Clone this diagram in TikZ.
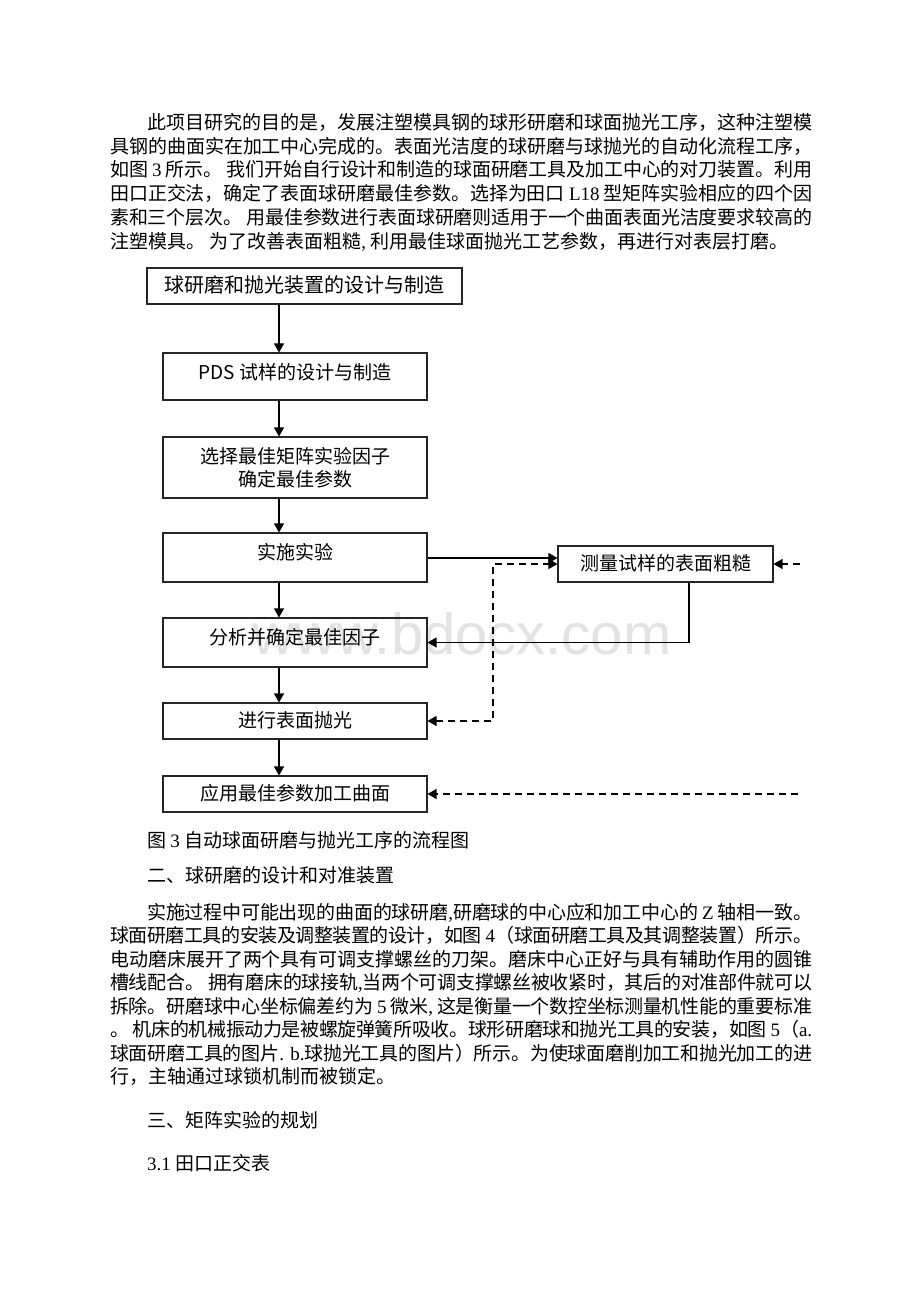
\documentclass[tikz,border=0pt]{standalone}
\usepackage{fontspec}
\setmainfont{Noto Sans CJK SC}
\newfontfamily\lat{Liberation Serif}
\newfontfamily\wmfont{Liberation Sans}
\usetikzlibrary{arrows.meta}
\XeTeXlinebreaklocale "zh"
\XeTeXlinebreakskip=0pt plus 4pt minus 1.2pt
\newcommand\jline[2]{\parbox[t]{#1}{\tolerance=10000\emergencystretch=0pt\parfillskip=0pt\parindent=0pt\noindent #2}}
\tikzset{
  box/.style={draw=black!85, line width=1.1pt, rectangle, inner sep=0pt, align=center,
    font=\fontsize{19pt}{23pt}\selectfont},
  tl/.style={text height=16pt, text depth=3pt},
  tu/.style={text height=16pt, text depth=13pt},
  arr/.style={line width=1.3pt, -{Triangle[length=9pt,width=10pt]}},
  darr/.style={arr, dash pattern=on 7pt off 5pt},
  dboth/.style={line width=1.3pt, dash pattern=on 7pt off 5pt, {Triangle[length=9pt,width=10pt]}-{Triangle[length=9pt,width=10pt]}},
  txt/.style={anchor=base west, inner sep=0pt, font=\fontsize{19pt}{23.6pt}\selectfont},
}
\begin{document}
\begin{tikzpicture}[x=1pt,y=-1pt]
\useasboundingbox[fill=white] (0,0) rectangle (920,1302);

% watermark
\node[inner sep=0pt, text=black!11, font=\wmfont\fontsize{58pt}{58pt}\selectfont] (wm) at (462,634) {www.bdocx.com};

% paragraph 1
\node[txt] (p1a) at (147,129.5) {\jline{665pt}{此项目研究的目的是，发展注塑模具钢的球形研磨和球面抛光工序，这种注塑模}};
\node[txt] (p1b) at (110,153.2) {\jline{702pt}{具钢的曲面实在加工中心完成的。表面光洁度的球研磨与球抛光的自动化流程工序，}};
\node[txt] (p1c) at (110,176.9) {\jline{702pt}{如图 {\lat 3} 所示。 我们开始自行设计和制造的球面研磨工具及加工中心的对刀装置。利用}};
\node[txt] (p1d) at (110,200.6) {\jline{702pt}{田口正交法，确定了表面球研磨最佳参数。选择为田口 {\lat L18} 型矩阵实验相应的四个因}};
\node[txt] (p1e) at (110,224.3) {\jline{702pt}{素和三个层次。 用最佳参数进行表面球研磨则适用于一个曲面表面光洁度要求较高的}};
\node[txt] (p1f) at (110,248) {注塑模具。 为了改善表面粗糙{\lat ,} 利用最佳球面抛光工艺参数，再进行对表层打磨。};

% flowchart boxes
\node[box, tl, minimum width=315pt, minimum height=36pt, font=\fontsize{20pt}{23pt}\selectfont] (b1) at (304.5,286) {球研磨和抛光装置的设计与制造};
\node[box, text height=16pt, text depth=10pt, minimum width=264pt, minimum height=47pt] (b2) at (295,376.5) {PDS 试样的设计与制造};
\node[box, minimum width=264pt, minimum height=61pt] (b3) at (295,467.5) {选择最佳矩阵实验因子\\确定最佳参数};
\node[box, tu, minimum width=264pt, minimum height=49pt] (b4) at (295,557.5) {实施实验};
\node[box, tu, minimum width=264pt, minimum height=49pt] (b5) at (295,642.5) {分析并确定最佳因子};
\node[box, tl, minimum width=264pt, minimum height=36pt] (b6) at (295,721) {进行表面抛光};
\node[box, tl, minimum width=264pt, minimum height=36pt] (b7) at (295,794) {应用最佳参数加工曲面};
\node[box, tl, minimum width=215pt, minimum height=36pt] (b8) at (665.5,564) {测量试样的表面粗糙};

% helper coordinates
\coordinate (ax) at (279,0);
\coordinate (ys) at (0,558);
\coordinate (dc) at (493,564);
\coordinate (sx) at (689,0);
\coordinate (r1) at (800,564);
\coordinate (r2) at (798,794);

% connectors
\draw[arr] (b1.south -| ax) -- (b2.north -| ax);
\draw[arr] (b2.south -| ax) -- (b3.north -| ax);
\draw[arr] (b3.south -| ax) -- (b4.north -| ax);
\draw[arr] (b4.south -| ax) -- (b5.north -| ax);
\draw[arr] (b5.south -| ax) -- (b6.north -| ax);
\draw[arr] (b6.south -| ax) -- (b7.north -| ax);
\draw[arr] (b4.east |- ys) -- (b8.west |- ys);
\draw[arr] (b8.south -| sx) |- (b5.east);
\draw[dboth] (b6.east) -| (dc) -- (b8.west |- dc);
\draw[darr] (r1) -- (b8.east);
\draw[darr] (r2) -- (b7.east);

% caption and section
\node[txt] (cap) at (147,847) {图 {\lat 3} 自动球面研磨与抛光工序的流程图};
\node[txt] (h2) at (147,882.5) {二、球研磨的设计和对准装置};

% paragraph 2
\node[txt] (p2a) at (147,919) {\jline{665pt}{实施过程中可能出现的曲面的球研磨{\lat ,}研磨球的中心应和加工中心的 {\lat Z} 轴相一致。}};
\node[txt] (p2b) at (110,942.5) {\jline{702pt}{球面研磨工具的安装及调整装置的设计，如图 {\lat 4}（球面研磨工具及其调整装置）所示。}};
\node[txt] (p2c) at (110,966) {\jline{702pt}{电动磨床展开了两个具有可调支撑螺丝的刀架。磨床中心正好与具有辅助作用的圆锥}};
\node[txt] (p2d) at (110,989.5) {\jline{702pt}{槽线配合。 拥有磨床的球接轨{\lat ,}当两个可调支撑螺丝被收紧时，其后的对准部件就可以}};
\node[txt] (p2e) at (110,1013) {\jline{702pt}{拆除。研磨球中心坐标偏差约为 {\lat 5} 微米{\lat ,} 这是衡量一个数控坐标测量机性能的重要标准}};
\node[txt] (p2f) at (110,1036.5) {\jline{702pt}{。 机床的机械振动力是被螺旋弹簧所吸收。球形研磨球和抛光工具的安装，如图 {\lat 5}（{\lat a.}}};
\node[txt] (p2g) at (110,1060) {\jline{702pt}{球面研磨工具的图片{\lat . b.}球抛光工具的图片）所示。为使球面磨削加工和抛光加工的进}};
\node[txt] (p2h) at (110,1083.5) {行，主轴通过球锁机制而被锁定。};

\node[txt] (h3) at (147,1127) {三、矩阵实验的规划};
\node[txt] (h31) at (147,1170) {{\lat 3.1} 田口正交表};
\end{tikzpicture}
\end{document}
